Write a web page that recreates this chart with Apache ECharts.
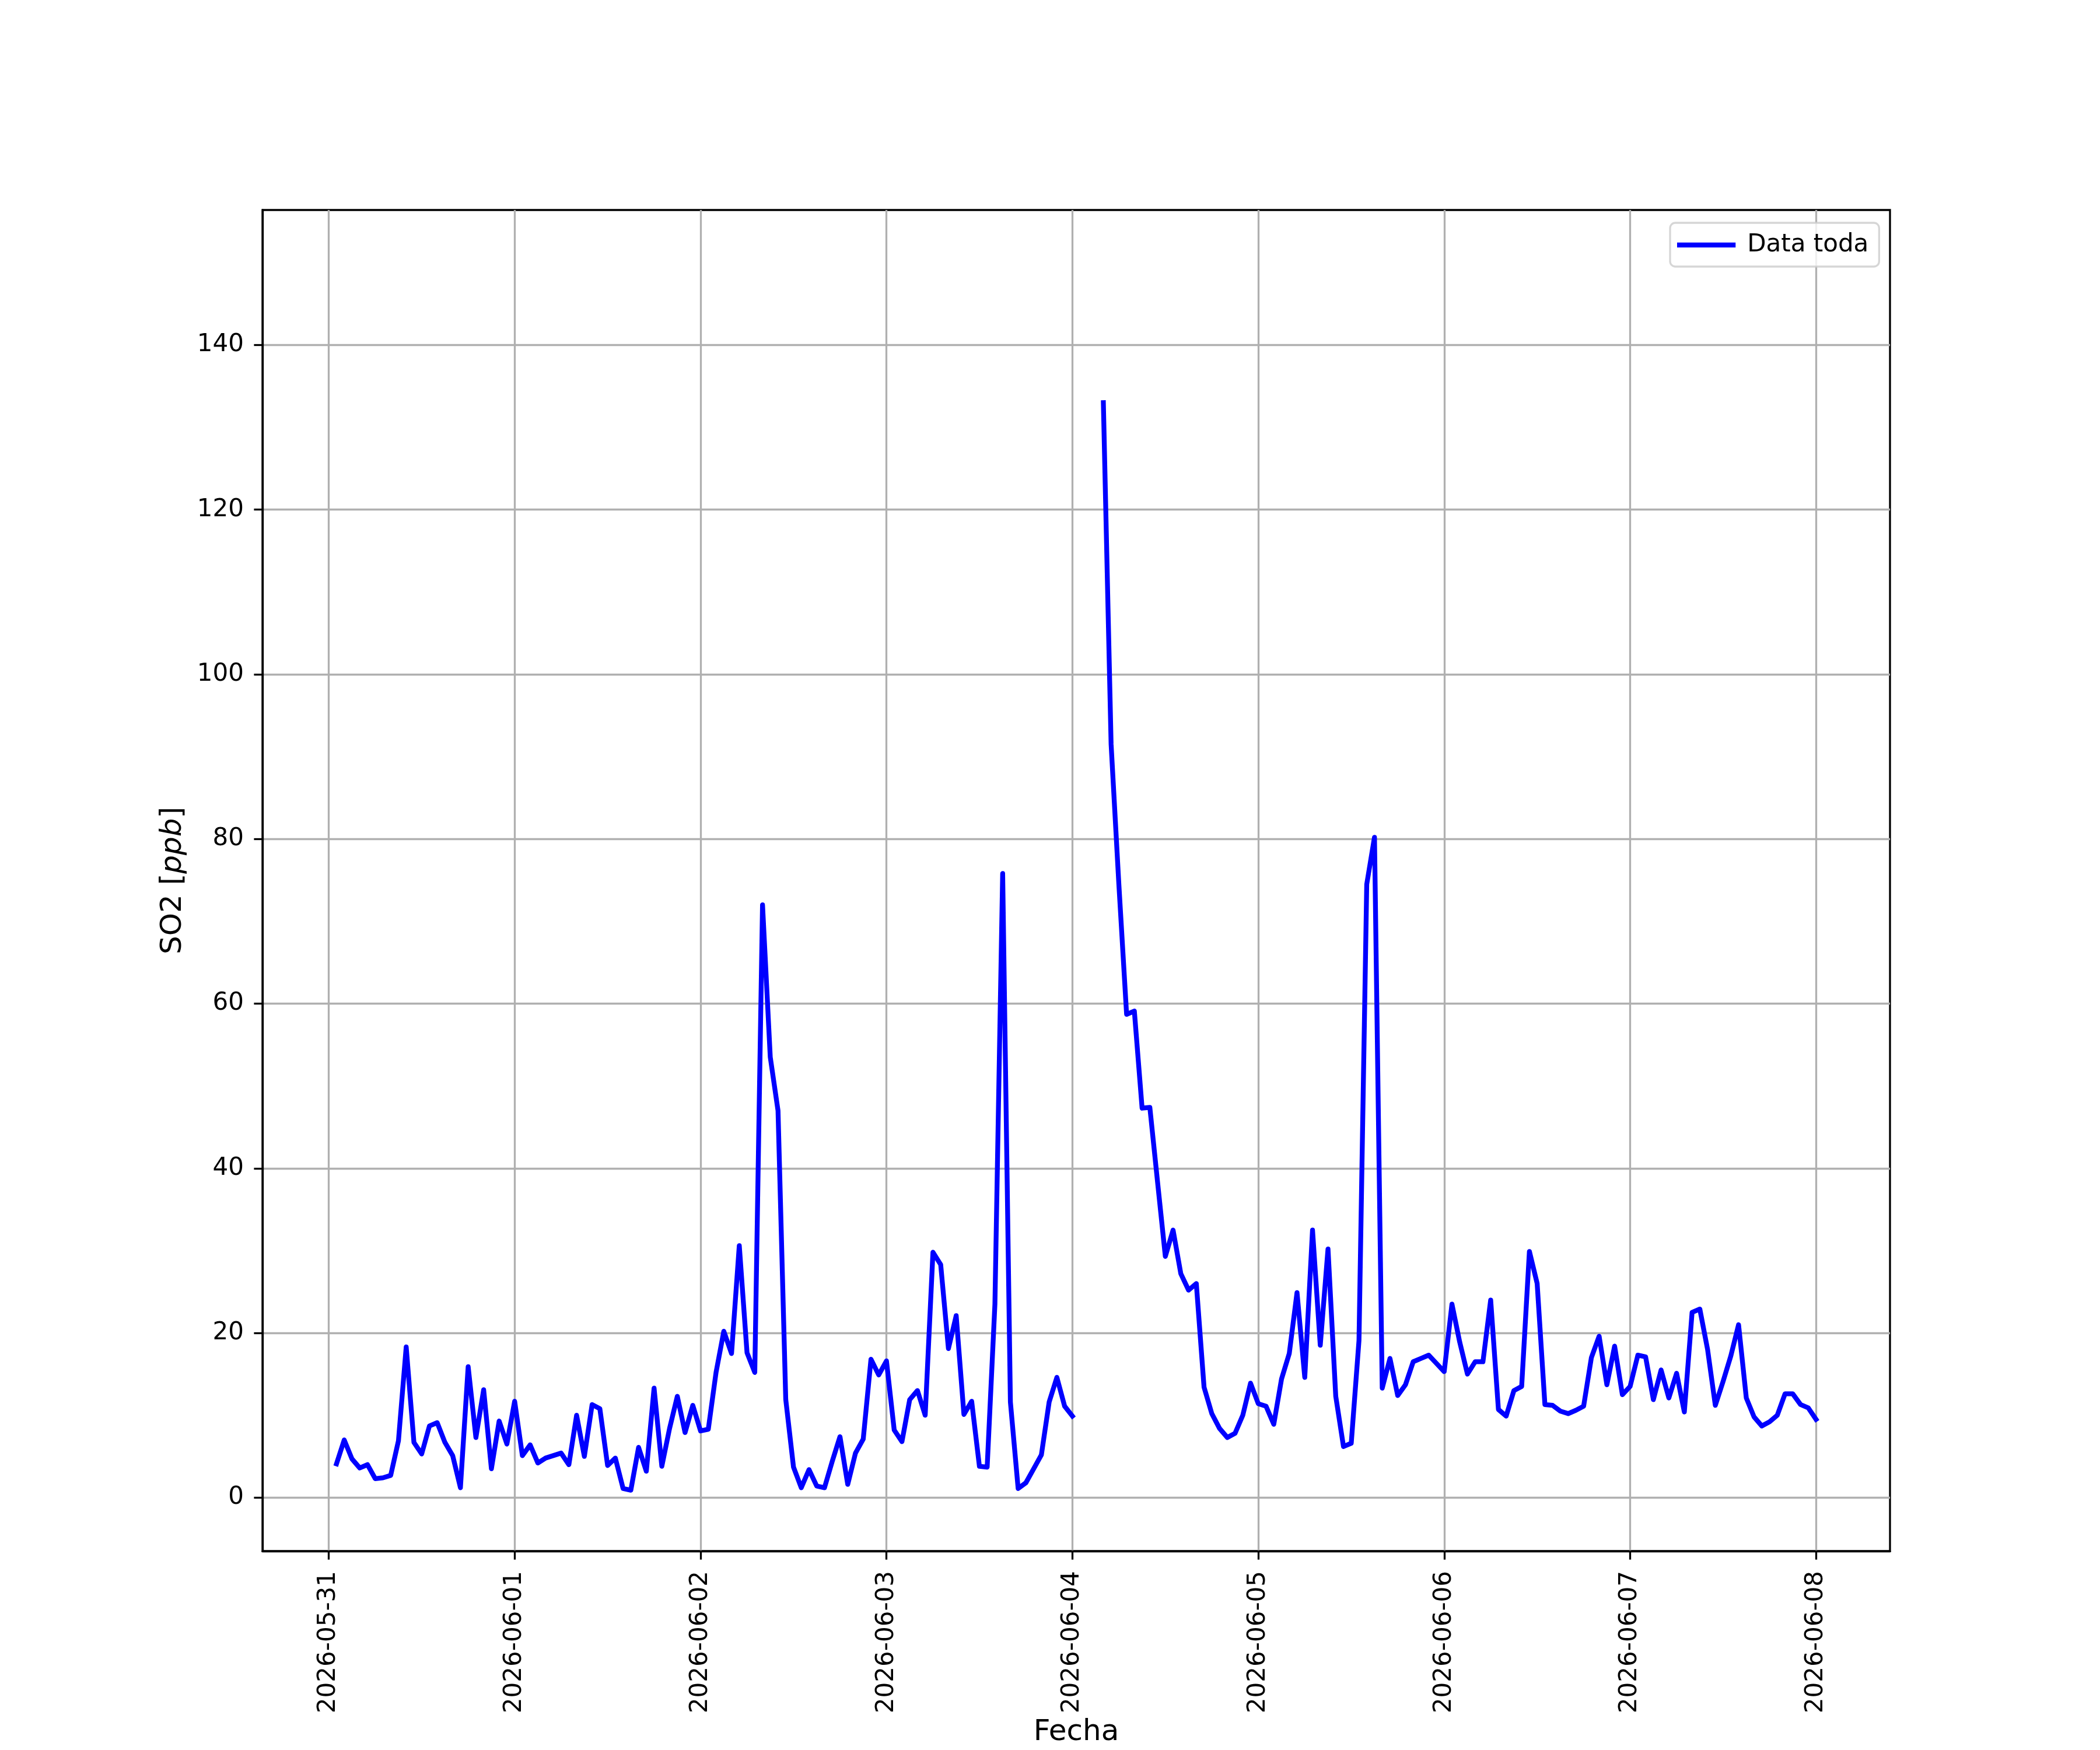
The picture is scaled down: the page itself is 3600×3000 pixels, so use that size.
<!DOCTYPE html>
<html>
<head>
<meta charset="utf-8">
<script src="https://cdn.jsdelivr.net/npm/echarts@6/dist/echarts.min.js"></script>
<style>
html,body{margin:0;padding:0;background:#fff;}
#chart{width:3600px;height:3000px;}
</style>
</head>
<body>
<div id="chart"></div>
<script>
// x positions: hours since 2026-05-31 00:00 (one reading per hour, first at 01:00)
const tickHours = [0, 24, 48, 72, 96, 120, 144, 168, 192];
const tickLabels = ['2026-05-31','2026-06-01','2026-06-02','2026-06-03','2026-06-04','2026-06-05','2026-06-06','2026-06-07','2026-06-08'];
const yTicks = [0, 20, 40, 60, 80, 100, 120, 140];
const seriesName = 'Data toda';

// SO2 [ppb], hourly, hour 1 .. hour 192 (null = missing)
const so2 = [
  4.1, 7.0, 4.7, 3.6, 4.0, 2.3, 2.4, 2.7, 6.9, 18.3, 6.7, 5.3,
  8.7, 9.1, 6.7, 5.1, 1.2, 15.9, 7.3, 13.1, 3.5, 9.3, 6.5, 11.7,
  5.1, 6.4, 4.2, 4.8, 5.1, 5.4, 4.0, 10.0, 5.0, 11.3, 10.8, 3.9,
  4.8, 1.1, 0.9, 6.1, 3.2, 13.3, 3.8, 8.4, 12.3, 7.9, 11.2, 8.1,
  8.3, 15.2, 20.2, 17.5, 30.6, 17.6, 15.2, 72.0, 53.5, 47.0, 11.9, 3.7,
  1.2, 3.4, 1.4, 1.2, 4.4, 7.4, 1.6, 5.4, 7.1, 16.8, 14.9, 16.6,
  8.2, 6.8, 11.9, 13.0, 10.0, 29.8, 28.3, 18.1, 22.1, 10.1, 11.7, 3.8,
  3.7, 23.5, 75.8, 11.6, 1.1, 1.8, 3.5, 5.2, 11.6, 14.6, 11.1, 9.9,
  null, null, null, 133.0, 91.5, 74.5, 58.7, 59.1, 47.3, 47.4, 38.3, 29.3,
  32.5, 27.2, 25.2, 26.0, 13.4, 10.2, 8.4, 7.3, 7.8, 10.0, 13.9, 11.4,
  11.1, 8.9, 14.4, 17.5, 24.9, 14.6, 32.5, 18.5, 30.2, 12.3, 6.2, 6.6,
  19.1, 74.5, 80.2, 13.3, 16.9, 12.4, 13.7, 16.5, 16.9, 17.3, 16.3, 15.3,
  23.5, 18.9, 15.0, 16.5, 16.5, 24.0, 10.7, 9.9, 13.0, 13.5, 29.9, 26.0,
  11.3, 11.2, 10.5, 10.2, 10.6, 11.1, 17.0, 19.6, 13.7, 18.4, 12.5, 13.5,
  17.3, 17.1, 11.9, 15.5, 12.1, 15.1, 10.4, 22.5, 22.9, 18.0, 11.2, 14.1,
  17.2, 21.0, 12.1, 9.8, 8.7, 9.2, 10.0, 12.6, 12.6, 11.3, 10.9, 9.5
];

const lineData = so2.map((v, i) => [i + 1, v]);
const FONT = 'DejaVu Sans';
const LW = 3.3;

const chart = echarts.init(document.getElementById('chart'), null, {renderer: 'canvas'});
chart.setOption({
  animation: false,
  backgroundColor: '#ffffff',
  grid: {
    left: 450, right: 360, top: 360, bottom: 330,
    show: true, borderColor: '#000000', borderWidth: LW, backgroundColor: 'transparent'
  },
  legend: {
    data: [{name: seriesName, itemStyle: {opacity: 0}}],
    left: 2863, top: 382,
    orient: 'vertical',
    padding: [17, 18, 16, 12],
    itemWidth: 92, itemHeight: 42,
    backgroundColor: 'rgba(255,255,255,0.8)',
    borderColor: 'rgba(204,204,204,0.8)',
    borderWidth: LW,
    borderRadius: 9,
    itemStyle: {opacity: 0},
    lineStyle: {width: 8.3, color: '#0000ff'},
    textStyle: {fontFamily: FONT, fontSize: 42, color: '#000', padding: [0, 0, 0, 19]}
  },
  xAxis: {
    type: 'value',
    min: -8.55, max: 201.55,
    name: 'Fecha',
    nameLocation: 'middle',
    nameGap: 278,
    nameTextStyle: {fontFamily: FONT, fontSize: 50, color: '#000'},
    axisLine: {show: true, onZero: false, lineStyle: {color: '#000', width: LW}},
    axisTick: {show: true, customValues: tickHours, length: 14.6, lineStyle: {color: '#000', width: LW}},
    axisLabel: {
      customValues: tickHours,
      rotate: 90, margin: 34,
      fontFamily: FONT, fontSize: 42, color: '#000',
      formatter: v => tickLabels[tickHours.indexOf(v)] || ''
    },
    splitLine: {show: true, lineStyle: {color: '#b0b0b0', width: LW}}
  },
  yAxis: {
    type: 'value',
    min: -6.5, max: 156.4,
    name: 'SO2 [{i|ppb}]',
    nameLocation: 'middle',
    nameGap: 128,
    nameTextStyle: {
      fontFamily: FONT, fontSize: 50, color: '#000',
      rich: {i: {fontFamily: FONT, fontSize: 50, fontStyle: 'italic', color: '#000'}}
    },
    axisLine: {show: true, onZero: false, lineStyle: {color: '#000', width: LW}},
    axisTick: {show: true, customValues: yTicks, length: 14.6, lineStyle: {color: '#000', width: LW}},
    axisLabel: {
      customValues: yTicks, margin: 32,
      fontFamily: FONT, fontSize: 42, color: '#000',
      formatter: v => String(v)
    },
    splitLine: {show: true, lineStyle: {color: '#b0b0b0', width: LW}}
  },
  series: [{
    name: seriesName,
    type: 'line',
    data: lineData,
    symbol: 'none',
    showSymbol: false,
    connectNulls: false,
    lineStyle: {color: '#0000ff', width: 8.3, cap: 'square', join: 'round'},
    itemStyle: {color: '#0000ff'}
  }]
});
</script>
</body>
</html>
